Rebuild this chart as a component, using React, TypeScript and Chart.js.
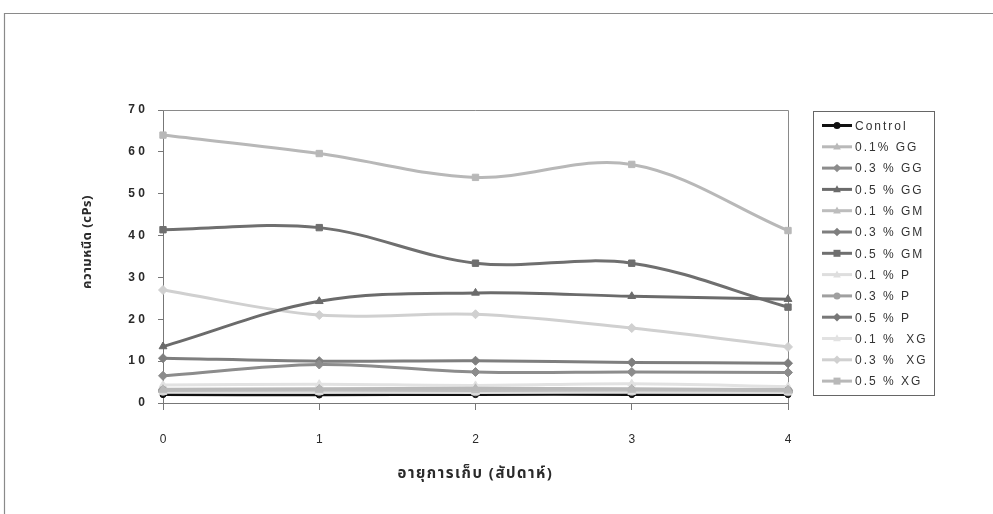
import { useEffect, useRef } from 'react';
import { Chart, registerables } from 'chart.js';

Chart.register(...registerables);

// Storage time (weeks)
const weeks = ['0', '1', '2', '3', '4'];

// Viscosity (cPs) per treatment
const control = [2.0, 1.9, 2.0, 2.0, 2.0];
const gg01 = [3.3, 3.4, 3.5, 3.4, 3.2];
const gg03 = [6.5, 9.2, 7.4, 7.4, 7.3];
const gg05 = [13.5, 24.3, 26.3, 25.5, 24.8];
const gm01 = [3.0, 3.1, 3.0, 3.1, 2.9];
const gm03 = [10.7, 10.0, 10.1, 9.7, 9.5];
const gm05 = [41.4, 41.9, 33.4, 33.4, 22.9];
const p01 = [2.6, 2.6, 2.5, 2.6, 2.5];
const p03 = [2.9, 2.9, 2.8, 2.9, 2.8];
const p05 = [3.1, 3.2, 3.1, 3.2, 3.0];
const xg01 = [4.3, 4.5, 4.2, 4.6, 3.9];
const xg03 = [27.0, 21.0, 21.2, 17.9, 13.4];
const xg05 = [64.0, 59.6, 53.9, 57.0, 41.2];

const seriesNames = [
  'Control', '0.1% GG', '0.3 % GG', '0.5 % GG',
  '0.1 % GM', '0.3 % GM', '0.5 % GM',
  '0.1 % P', '0.3 % P', '0.5 % P',
  '0.1 %  XG', '0.3 %  XG', '0.5 % XG',
];
const seriesValues = [control, gg01, gg03, gg05, gm01, gm03, gm05, p01, p03, p05, xg01, xg03, xg05];
const seriesColors = [
  '#111111', '#b9b9b9', '#8c8c8c', '#6b6b6b',
  '#bdbdbd', '#7e7e7e', '#6f6f6f',
  '#dedede', '#a0a0a0', '#787878',
  '#e2e2e2', '#d0d0d0', '#b8b8b8',
];
const seriesMarkers = [
  'circle', 'triangle', 'rectRot', 'triangle',
  'triangle', 'rectRot', 'rect',
  'triangle', 'circle', 'rectRot',
  'triangle', 'rectRot', 'rect',
];

const yTicks = [0, 10, 20, 30, 40, 50, 60, 70];

const xTitle = 'อายุการเก็บ (สัปดาห์)';
const yTitle = 'ความหนืด (cPs)';

const FONT = "'Liberation Sans', Arial, sans-serif";
const THAI = "'Noto Sans Thai', 'Noto Sans', 'DejaVu Sans', sans-serif";

function drawMarker(ctx: CanvasRenderingContext2D, style: string, x: number, y: number, r: number) {
  ctx.beginPath();
  if (style === 'circle') {
    ctx.arc(x, y, r, 0, Math.PI * 2);
  } else if (style === 'rect') {
    ctx.rect(x - r, y - r, r * 2, r * 2);
  } else if (style === 'rectRot') {
    ctx.moveTo(x, y - r * 1.2);
    ctx.lineTo(x + r * 1.2, y);
    ctx.lineTo(x, y + r * 1.2);
    ctx.lineTo(x - r * 1.2, y);
    ctx.closePath();
  } else {
    ctx.moveTo(x, y - r * 1.2);
    ctx.lineTo(x + r * 1.1, y + r * 0.8);
    ctx.lineTo(x - r * 1.1, y + r * 0.8);
    ctx.closePath();
  }
  ctx.fill();
}

const framePlugin = {
  id: 'frame',
  beforeDraw(chart: any) {
    const { ctx, width, height } = chart;
    ctx.save();
    ctx.fillStyle = '#ffffff';
    ctx.fillRect(0, 0, width, height);
    ctx.strokeStyle = '#8a8a8a';
    ctx.lineWidth = 1.2;
    ctx.beginPath();
    ctx.moveTo(4.5, height + 2);
    ctx.lineTo(4.5, 13.5);
    ctx.lineTo(width + 2, 13.5);
    ctx.stroke();
    ctx.restore();
  },
  beforeDatasetsDraw(chart: any) {
    const { ctx, chartArea } = chart;
    ctx.save();
    ctx.strokeStyle = '#8a8a8a';
    ctx.lineWidth = 1;
    ctx.beginPath();
    ctx.moveTo(chartArea.left, chartArea.top + 0.5);
    ctx.lineTo(chartArea.right + 0.5, chartArea.top + 0.5);
    ctx.lineTo(chartArea.right + 0.5, chartArea.bottom);
    ctx.stroke();
    ctx.restore();
  },
  afterDraw(chart: any) {
    const { ctx, chartArea } = chart;
    ctx.save();
    // axis titles
    ctx.fillStyle = '#2a2a2a';
    ctx.font = `bold 15px ${THAI}`;
    ctx.textAlign = 'center';
    ctx.textBaseline = 'middle';
    (ctx as any).letterSpacing = '1.5px';
    ctx.fillText(xTitle, (chartArea.left + chartArea.right) / 2, 475);
    ctx.translate(88, 242);
    ctx.rotate(-Math.PI / 2);
    ctx.font = `bold 13px ${THAI}`;
    (ctx as any).letterSpacing = '0.5px';
    ctx.fillText(yTitle, 0, 0);
    ctx.restore();

    // legend
    ctx.save();
    ctx.strokeStyle = '#666666';
    ctx.lineWidth = 1;
    ctx.strokeRect(813.5, 111.5, 121, 284);
    chart.data.datasets.forEach((ds: any, i: number) => {
      const y = 125.5 + i * 21.3;
      ctx.strokeStyle = ds.borderColor;
      ctx.lineWidth = 3;
      ctx.beginPath();
      ctx.moveTo(822, y);
      ctx.lineTo(852, y);
      ctx.stroke();
      ctx.fillStyle = ds.borderColor;
      drawMarker(ctx, ds.pointStyle, 837, y, 3.5);
      ctx.fillStyle = '#333333';
      ctx.font = `12px ${FONT}`;
      ctx.textAlign = 'left';
      ctx.textBaseline = 'middle';
      (ctx as any).letterSpacing = '2px';
      ctx.fillText(ds.label, 855, y + 1);
    });
    ctx.restore();
  },
};

export default function App() {
  const ref = useRef<HTMLCanvasElement>(null);

  useEffect(() => {
    if (!ref.current) return;
    const datasets = seriesNames.map((name, i) => ({
      label: name,
      data: seriesValues[i],
      borderColor: seriesColors[i],
      backgroundColor: seriesColors[i],
      pointBackgroundColor: seriesColors[i],
      pointBorderColor: seriesColors[i],
      pointStyle: seriesMarkers[i],
      pointRadius: i === 0 ? 3 : 4.5,
      pointBorderWidth: 1,
      borderWidth: i === 0 ? 2.5 : 3,
      tension: 0.35,
      fill: false,
      order: i === 0 ? 20 : i,
    }));
    const chart = new Chart(ref.current, {
      type: 'line',
      data: { labels: weeks, datasets },
      options: {
        animation: false,
        responsive: false,
        devicePixelRatio: 1,
        layout: { padding: { left: 0, top: 110, right: 205, bottom: 0 } },
        plugins: { legend: { display: false }, tooltip: { enabled: false } },
        scales: {
          x: {
            offset: false,
            grid: { display: true, drawOnChartArea: false, drawTicks: true, tickLength: 7, color: '#777777' },
            border: { display: true, color: '#777777', width: 1 },
            ticks: { padding: 22, color: '#2a2a2a', maxRotation: 0, font: { family: FONT, size: 12 } },
            afterFit: (s: any) => { s.height = 111; },
          },
          y: {
            min: 0,
            max: 70,
            afterBuildTicks: (s: any) => { s.ticks = yTicks.map((v) => ({ value: v })); },
            grid: { display: true, drawOnChartArea: false, drawTicks: true, tickLength: 5, color: '#777777' },
            border: { display: true, color: '#777777', width: 1 },
            ticks: {
              padding: 13,
              color: '#2a2a2a',
              font: { family: FONT, size: 12, weight: 'bold' },
              callback: (v: any) => String(v).split('').join(' '),
            },
            afterFit: (s: any) => { s.width = 163; },
          },
        },
      },
      plugins: [framePlugin],
    });
    return () => chart.destroy();
  }, []);

  return (
    <div style={{ position: 'fixed', left: 0, top: 0, width: 993, height: 514, background: '#fff' }}>
      <canvas ref={ref} width={993} height={514} style={{ width: 993, height: 514, display: 'block' }} />
    </div>
  );
}
